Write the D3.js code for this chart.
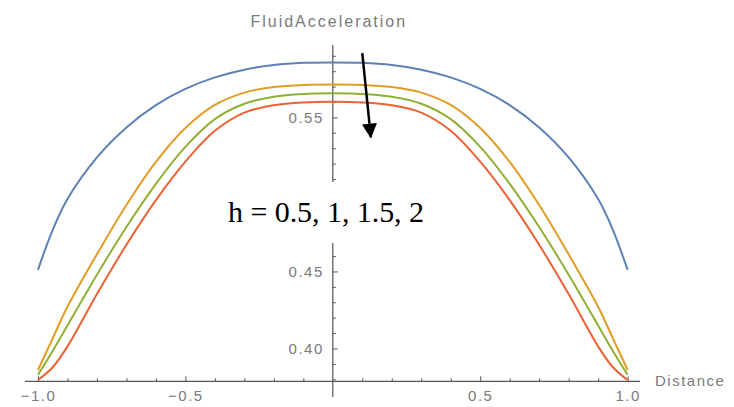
<!DOCTYPE html>
<html><head><meta charset="utf-8">
<script src="https://cdn.jsdelivr.net/npm/d3@7"></script>
<style>body{margin:0;background:#fff}</style>
</head><body>
<svg id="c" width="734" height="407"></svg>
<script>
const xs = [-1,-0.95,-0.9,-0.8,-0.7,-0.6,-0.5,-0.4,-0.3,-0.2,-0.1,0,0.1,0.2,0.3,0.4,0.5,0.6,0.7,0.8,0.9,0.95,1];
const hBlue   = [0.451,0.477,0.497,0.524,0.5435,0.558,0.5685,0.576,0.581,0.584,0.5854,0.5857,0.5854,0.584,0.581,0.576,0.5685,0.558,0.5435,0.524,0.497,0.477,0.451];
const hOrange = [0.386,0.4066,0.4271,0.4611,0.4931,0.5211,0.5431,0.5581,0.5661,0.5697,0.5711,0.5714,0.5711,0.5697,0.5661,0.5581,0.5431,0.5211,0.4931,0.4611,0.4271,0.4066,0.386];
const hGreen  = [0.383,0.3984,0.4149,0.4479,0.4789,0.5069,0.5309,0.5489,0.5589,0.5634,0.5652,0.5656,0.5652,0.5634,0.5589,0.5489,0.5309,0.5069,0.4789,0.4479,0.4149,0.3984,0.383];
const hRed    = [0.3795,0.3878,0.4013,0.4353,0.4673,0.4963,0.5213,0.5413,0.5531,0.5579,0.5597,0.5601,0.5597,0.5579,0.5531,0.5413,0.5213,0.4963,0.4673,0.4353,0.4013,0.3878,0.3795];
const seriesNames = ["h=0.5","h=1","h=1.5","h=2"];
const seriesColors = ["#5E81B5","#E19C24","#8FB032","#EB6235"];
const xMajor = [-1,-0.5,0.5,1];
const xMinor = [-0.9,-0.8,-0.7,-0.6,-0.4,-0.3,-0.2,-0.1,0.1,0.2,0.3,0.4,0.6,0.7,0.8,0.9];
const yMajor = [0.40,0.45,0.50,0.55];
const yMinor = [0.38,0.39,0.41,0.42,0.43,0.44,0.46,0.47,0.48,0.49,0.51,0.52,0.53,0.54,0.56,0.57,0.58,0.59];
const yHiddenLabels = [0.50];
const xLabel = "Distance", yLabel = "FluidAcceleration", note = "h = 0.5, 1, 1.5, 2";

const svg = d3.select("#c");
const x = d3.scaleLinear().domain([-1.044, 1.042]).range([25, 640]);
const y = d3.scaleLinear().domain([0.3685, 0.597]).range([397, 45]);
const axisY0 = 0.3787;
const axisColor = "#555", textColor = "#7a7a7a";
const tickFont = "Liberation Sans, Arial, sans-serif";

// x axis
const gx = svg.append("g").attr("transform", `translate(0,${y(axisY0)})`);
gx.append("line").attr("x1", x.range()[0]).attr("x2", x.range()[1]).attr("stroke", axisColor).attr("stroke-width", 1.2);
gx.append("g").call(d3.axisBottom(x).tickValues(xMajor).tickSize(-5).tickSizeOuter(0).tickPadding(9).tickFormat(d3.format(".1f")))
  .call(a => { a.select(".domain").remove(); a.selectAll("line").attr("stroke", axisColor);
    a.selectAll("text").attr("fill", textColor).style("font-family", tickFont).style("font-size", "15px").style("letter-spacing", "1.5px"); });
gx.append("g").call(d3.axisBottom(x).tickValues(xMinor).tickSize(-3).tickSizeOuter(0).tickFormat(""))
  .call(a => { a.select(".domain").remove(); a.selectAll("line").attr("stroke", axisColor); });
svg.append("text").attr("x", x(1.042) + 15).attr("y", y(axisY0) + 5).text(xLabel)
  .attr("fill", textColor).style("font-family", tickFont).style("font-size", "15px").style("letter-spacing", "1.5px");

// y axis
const gy = svg.append("g").attr("transform", `translate(${x(0)},0)`);
gy.append("line").attr("y1", y.range()[0]).attr("y2", y.range()[1]).attr("stroke", axisColor).attr("stroke-width", 1.2);
const fmtY = d3.format(".2f");
gy.append("g").call(d3.axisLeft(y).tickValues(yMajor).tickSize(-5).tickSizeOuter(0).tickPadding(9)
    .tickFormat(d => yHiddenLabels.includes(d) ? "" : fmtY(d)))
  .call(a => { a.select(".domain").remove(); a.selectAll("line").attr("stroke", axisColor);
    a.selectAll("text").attr("fill", textColor).style("font-family", tickFont).style("font-size", "15px").style("letter-spacing", "1.5px"); });
gy.append("g").call(d3.axisLeft(y).tickValues(yMinor).tickSize(-3).tickSizeOuter(0).tickFormat(""))
  .call(a => { a.select(".domain").remove(); a.selectAll("line").attr("stroke", axisColor); });
svg.append("text").attr("x", x(0) - 4).attr("y", 27).attr("text-anchor", "middle").text(yLabel)
  .attr("fill", textColor).style("font-family", tickFont).style("font-size", "16px").style("letter-spacing", "2px");

// curves
const seriesVals = [hBlue, hOrange, hGreen, hRed];
const line = d3.line().x(d => x(d[0])).y(d => y(d[1])).curve(d3.curveCatmullRom.alpha(0.5));
seriesVals.forEach((vals, i) => {
  svg.append("path").datum(xs.map((v, j) => [v, vals[j]]))
    .attr("d", line).attr("fill", "none").attr("stroke", seriesColors[i]).attr("stroke-width", 2)
    .attr("stroke-linejoin", "round").attr("class", "series").attr("data-name", seriesNames[i]);
});

// annotation box + text
svg.append("rect").attr("x", 215).attr("y", 182).attr("width", 220).attr("height", 61).attr("fill", "#fff");
svg.append("text").attr("x", 228).attr("y", 222).text(note)
  .attr("textLength", 196).attr("lengthAdjust", "spacing")
  .attr("fill", "#000").style("font-family", "Liberation Serif, 'DejaVu Serif', serif").style("font-size", "30px");

// arrow
const ax0 = [0.1, 0.5917], ax1 = [0.129, 0.5372];
svg.append("defs").append("marker").attr("id", "ah").attr("viewBox", "0 0 10 10").attr("refX", 9).attr("refY", 5)
  .attr("markerUnits", "userSpaceOnUse").attr("markerWidth", 15).attr("markerHeight", 15).attr("orient", "auto")
  .append("path").attr("d", "M0,0 L10,5 L0,10 z").attr("fill", "#000");
svg.append("line").attr("x1", x(ax0[0])).attr("y1", y(ax0[1])).attr("x2", x(ax1[0])).attr("y2", y(ax1[1]))
  .attr("stroke", "#000").attr("stroke-width", 2.5).attr("marker-end", "url(#ah)");
</script>
</body></html>
